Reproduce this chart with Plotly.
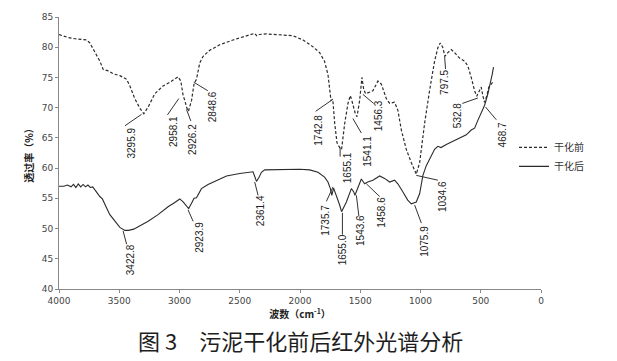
import plotly.graph_objects as go

# ---- data: before drying (dashed) ----
wn_before = [4000, 3924, 3868, 3771, 3744, 3702, 3661, 3633, 3592, 3550, 3495, 3439, 3412, 3371, 3329,
             3296, 3260, 3205, 3136, 3080, 3039, 3012, 2989, 2970, 2956, 2942, 2926, 2900, 2879, 2859,
             2832, 2804, 2749, 2666, 2556, 2444, 2376, 2360, 2348, 2279, 2168, 2058, 1975, 1894, 1837,
             1797, 1768, 1755, 1743, 1728, 1712, 1693, 1671, 1655, 1629, 1602, 1582, 1566, 1541, 1527,
             1505, 1486, 1472, 1456, 1422, 1395, 1353, 1325, 1284, 1256, 1215, 1188, 1159, 1118, 1076,
             1035, 1007, 966, 925, 883, 856, 836, 814, 798, 773, 745, 717, 676, 634, 607,
             579, 551, 533, 510, 496, 483, 469, 449, 433, 413, 394]
t_before = [82.1, 81.6, 81.4, 81.2, 80.7, 79.3, 77.7, 76.3, 76.1, 75.6, 75.3, 74.7, 73.6, 71.5, 69.9,
            69.0, 70.1, 72.3, 73.6, 74.2, 74.7, 75.1, 74.4, 72.0, 71.2, 70.1, 69.4, 71.2, 74.0, 74.7,
            77.4, 78.5, 79.5, 80.4, 81.2, 81.9, 82.3, 81.9, 82.1, 82.2, 82.1, 81.9, 81.2, 80.1, 79.1,
            77.7, 75.5, 73.4, 71.2, 71.4, 67.4, 64.2, 63.4, 63.1, 67.4, 70.7, 72.0, 70.9, 69.0, 68.5,
            71.2, 75.0, 73.1, 72.3, 72.6, 72.8, 74.4, 73.9, 71.5, 70.7, 70.9, 69.6, 66.3, 63.1, 60.9,
            59.0, 60.9, 67.4, 72.8, 77.7, 79.9, 80.7, 79.9, 78.5, 79.1, 79.6, 79.1, 78.2, 77.7, 76.9,
            75.0, 72.8, 71.9, 72.8, 73.4, 72.0, 70.9, 72.0, 73.4, 73.9, 74.4]

# ---- data: after drying (solid) ----
wn_after = [4000, 3960, 3930, 3900, 3880, 3860, 3840, 3820, 3800, 3780, 3760, 3740, 3720, 3702, 3680,
            3661, 3640, 3620, 3600, 3578, 3537, 3495, 3454, 3423, 3380, 3343, 3260, 3178, 3095, 3039,
            2998, 2970, 2942, 2924, 2900, 2879, 2859, 2846, 2818, 2763, 2707, 2610, 2500, 2390, 2377,
            2361, 2340, 2320, 2293, 2141, 2002, 1920, 1851, 1796, 1768, 1748, 1736, 1721, 1698, 1671,
            1655, 1615, 1574, 1555, 1544, 1520, 1491, 1464, 1438, 1395, 1339, 1298, 1256, 1215, 1188,
            1147, 1106, 1076, 1035, 1007, 980, 952, 925, 883, 856, 830, 786, 731, 676, 620,
            579, 551, 524, 496, 468, 441, 421, 405, 394]
t_after = [57.0, 57.0, 57.2, 56.9, 57.3, 56.8, 57.4, 56.9, 57.3, 56.9, 57.2, 56.8, 56.9, 56.4, 56.0,
           55.3, 54.9, 53.9, 53.2, 52.3, 51.2, 50.2, 49.7, 49.7, 49.9, 50.3, 51.2, 52.3, 53.6, 54.3,
           54.9, 54.4, 53.8, 53.3, 54.2, 55.0, 55.1, 55.6, 56.6, 57.3, 57.8, 58.7, 59.1, 59.4, 58.7,
           57.8, 58.5, 59.3, 59.7, 59.8, 59.8, 59.7, 59.3, 58.5, 57.7, 56.6, 55.5, 56.7, 55.5, 53.9,
           52.8, 54.4, 56.6, 56.1, 55.5, 56.6, 58.2, 57.4, 57.7, 58.0, 58.7, 58.3, 57.7, 58.0, 57.4,
           56.1, 54.7, 54.1, 54.4, 55.8, 58.8, 60.4, 61.5, 63.1, 63.6, 63.4, 63.9, 64.4, 65.0, 65.5,
           66.3, 66.6, 67.9, 69.3, 70.4, 72.3, 73.9, 75.5, 76.7]

series_names = ["干化前", "干化后"]

# peak labels: text, label centre (wn, T), leader start, leader end
peak_labels = [
    ("3295.9", 3396, 64.2, 3453, 67.0, 3315, 68.9),
    ("2958.1", 3056, 66.1, 3100, 68.8, 3006, 71.5),
    ("2926.2", 2898, 64.8, 2906, 67.8, 2942, 69.7),
    ("2848.6", 2724, 70.2, 2765, 72.8, 2881, 74.2),
    ("1742.8", 1853, 66.3, 1870, 69.4, 1740, 71.2),
    ("1655.1", 1609, 60.0, 1667, 63.4, 1667, 61.9),
    ("1541.1", 1439, 62.8, 1491, 65.8, 1561, 68.2),
    ("1456.3", 1347, 68.7, 1389, 70.7, 1478, 72.2),
    ("797.5", 800, 74.2, 792, 76.4, 800, 78.5),
    ("532.8", 692, 68.7, 653, 70.7, 524, 71.6),
    ("468.7", 319, 65.5, 371, 68.0, 460, 70.1),
    ("1034.6", 817, 55.3, 856, 58.0, 1035, 58.8),
    ("3422.8", 3404, 44.9, 3439, 47.4, 3468, 49.6),
    ("2923.9", 2840, 48.6, 2887, 51.2, 2929, 53.1),
    ("2361.4", 2326, 53.0, 2348, 55.5, 2376, 57.7),
    ("1735.7", 1795, 51.4, 1781, 54.5, 1726, 56.9),
    ("1655.0", 1646, 46.5, 1648, 49.0, 1648, 52.6),
    ("1543.6", 1497, 49.7, 1511, 52.0, 1532, 55.5),
    ("1458.6", 1323, 52.7, 1339, 55.3, 1449, 57.4),
    ("1075.9", 966, 47.9, 993, 50.9, 1049, 53.9),
]

x_ticks = [4000, 3500, 3000, 2500, 2000, 1500, 1000, 500, 0]
y_ticks = [40, 45, 50, 55, 60, 65, 70, 75, 80, 85]

assert len(wn_before) == len(t_before)
assert len(wn_after) == len(t_after)

LINE = "#2b2b2b"
fig = go.Figure()
fig.add_trace(go.Scatter(x=wn_before, y=t_before, mode="lines", name=series_names[0],
                         line=dict(color=LINE, width=1.2, dash="3px,2px")))
fig.add_trace(go.Scatter(x=wn_after, y=t_after, mode="lines", name=series_names[1],
                         line=dict(color=LINE, width=1.1)))

for txt, tx, ty, x0, y0, x1, y1 in peak_labels:
    fig.add_shape(type="line", x0=x0, y0=y0, x1=x1, y1=y1, xref="x", yref="y",
                  line=dict(color="#333333", width=1))
    fig.add_annotation(x=tx, y=ty, xref="x", yref="y", text=txt, showarrow=False,
                       textangle=-90, font=dict(size=10, color="#222222",
                                                family="Liberation Sans, Arial, sans-serif"))

# caption
fig.add_annotation(x=0.5, y=0.0, xref="paper", yref="paper", xanchor="center", yanchor="middle",
                   text="图 3　污泥干化前后红外光谱分析", showarrow=False,
                   font=dict(size=22, color="#1e1e1e", family="Noto Sans CJK SC"),
                   yshift=-(340 - 289))

fig.update_layout(
    width=617, height=361,
    margin=dict(l=59, r=75.5, t=11.7, b=72),
    paper_bgcolor="white", plot_bgcolor="white",
    font=dict(family="DejaVu Sans, Noto Sans CJK SC", size=9, color="#444444"),
    showlegend=True,
    legend=dict(x=0.944, y=0.574, xanchor="left", yanchor="top", bgcolor="rgba(0,0,0,0)",
                font=dict(size=10, color="#333333", family="Noto Sans CJK SC"),
                itemwidth=30, tracegroupgap=0),
    xaxis=dict(range=[4000, 0], tickvals=x_ticks, ticks="outside", ticklen=3, tickcolor="#888888",
               showline=True, linecolor="#888888", linewidth=1, showgrid=False, zeroline=False,
               tickfont=dict(size=9, color="#444444", family="DejaVu Sans"),
               title=dict(text="<b>波数（cm<sup>-1</sup>）</b>", standoff=6,
                          font=dict(size=10, color="#222222", family="Noto Sans CJK SC"))),
    yaxis=dict(range=[40, 85], tickvals=y_ticks, ticks="outside", ticklen=3, tickcolor="#888888",
               showline=True, linecolor="#888888", linewidth=1, showgrid=False, zeroline=False,
               tickfont=dict(size=9, color="#444444", family="DejaVu Sans"),
               title=dict(text="<b>透过率（%）</b>", standoff=6,
                          font=dict(size=10, color="#222222", family="Noto Sans CJK SC"))),
)

# remove the default 8px page margin so the figure sits at the window origin
fig.write_html("out.html", config={"displayModeBar": False},
               post_script="document.body.style.margin='0px';")
